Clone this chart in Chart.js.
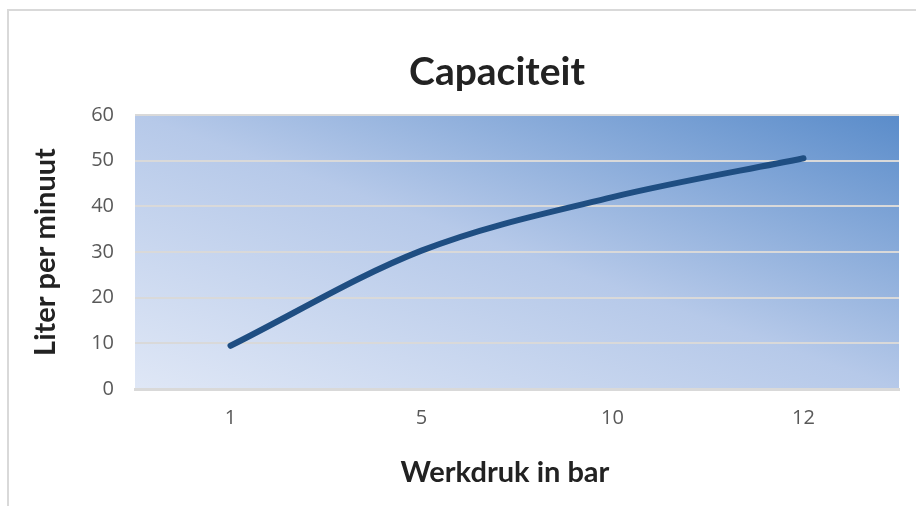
<!DOCTYPE html>
<html>
<head>
<meta charset="utf-8">
<title>Capaciteit</title>
<script src="https://cdn.jsdelivr.net/npm/chart.js"></script>
<style>
  html, body { margin: 0; padding: 0; background: #fff; }
  #wrap { width: 916px; height: 506px; }
</style>
</head>
<body>
<div id="wrap"><canvas id="chart" width="916" height="506"></canvas></div>
<script>
// data
const drukLabels = ['1', '5', '10', '12'];
const literPerMinuut = [9.5, 30.3, 42, 50.5];
const yTicks = [0, 10, 20, 30, 40, 50, 60];

// outer frame + diagonal gradient plot background
const background = {
  id: 'background',
  afterLayout(chart) {
    // titles sit a little left of the plot centre, like the original
    const t = chart.titleBlock;
    const a = chart.chartArea;
    const w = t.right - t.left;
    const c = (a.left + a.right) / 2 - 20;
    t.left = c - w / 2;
    t.right = c + w / 2;

    const x = chart.scales.x;
    if (!x._shifted) {
      const orig = x.drawTitle.bind(x);
      x.drawTitle = function () {
        const l = this.left, r = this.right;
        this.left -= 12;
        this.right -= 12;
        orig();
        this.left = l;
        this.right = r;
      };
      x._shifted = true;
    }
  },
  beforeDraw(chart) {
    const { ctx, chartArea: a } = chart;
    ctx.save();
    ctx.strokeStyle = '#d9d9d9';
    ctx.lineWidth = 2;
    ctx.beginPath();
    ctx.moveTo(8, 520);
    ctx.lineTo(8, 10);
    ctx.lineTo(930, 10);
    ctx.stroke();
    const w = a.right - a.left, h = a.bottom - a.top;
    const cx = a.left + w / 2, cy = a.top + h / 2;
    const n = Math.hypot(w, h);
    const ux = h / n, uy = -w / n;
    const r = (w / 2) * ux - (h / 2) * uy;
    const g = ctx.createLinearGradient(cx - ux * r, cy - uy * r, cx + ux * r, cy + uy * r);
    g.addColorStop(0, '#dfe7f6');
    g.addColorStop(0.5, '#b6c9e9');
    g.addColorStop(1, '#5a8cca');
    ctx.fillStyle = g;
    ctx.fillRect(a.left, a.top, w, h);
    ctx.restore();
  }
};

new Chart(document.getElementById('chart'), {
  type: 'line',
  data: {
    labels: drukLabels,
    datasets: [{
      data: literPerMinuut,
      borderColor: '#1f4e82',
      borderWidth: 6,
      borderCapStyle: 'round',
      cubicInterpolationMode: 'monotone',
      pointRadius: 0,
      fill: false
    }]
  },
  options: {
    responsive: false,
    animation: false,
    layout: { padding: { top: 49, left: 10, right: 17, bottom: 16 } },
    plugins: {
      legend: { display: false },
      tooltip: { enabled: false },
      title: {
        display: true,
        text: 'Capaciteit',
        color: '#222',
        font: { family: 'Lato', size: 39, weight: 'bold' },
        padding: { top: 0, bottom: 19 }
      }
    },
    scales: {
      x: {
        offset: true,
        grid: { display: false, drawTicks: false },
        border: { color: '#d9d9d9', width: 3 },
        ticks: { color: '#595959', font: { family: 'Open Sans', size: 20 }, padding: 17 },
        title: {
          display: true,
          text: 'Werkdruk in bar',
          color: '#222',
          font: { family: 'Lato', size: 29, weight: 'bold' },
          padding: { top: 8, bottom: 0 }
        }
      },
      y: {
        min: 0,
        max: 60,
        afterBuildTicks(scale) { scale.ticks = yTicks.map(v => ({ value: v })); },
        afterFit(scale) { scale.width = 125; },
        grid: { color: '#d9d9d9', lineWidth: 2, drawTicks: false },
        border: { display: false },
        ticks: { color: '#595959', font: { family: 'Open Sans', size: 20 }, padding: 21 },
        title: {
          display: true,
          text: 'Liter per minuut',
          color: '#222',
          font: { family: 'Lato', size: 29, weight: 'bold' },
          padding: { top: 18, bottom: 0 }
        }
      }
    }
  },
  plugins: [background]
});
</script>
</body>
</html>
